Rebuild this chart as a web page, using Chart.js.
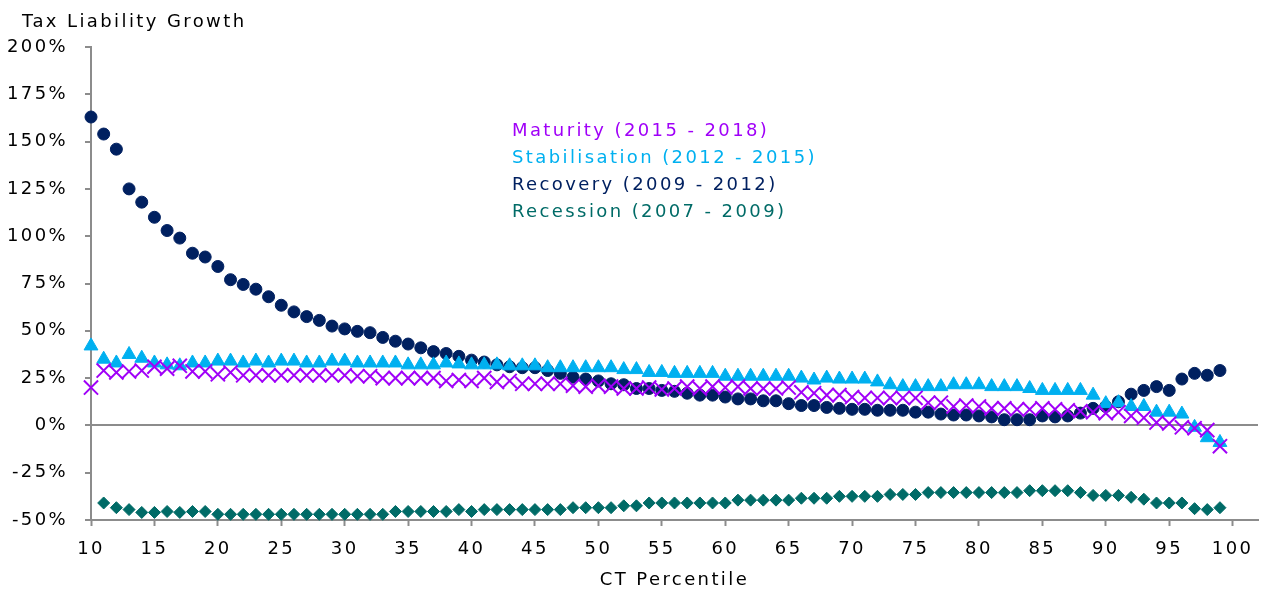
<!DOCTYPE html>
<html>
<head>
<meta charset="utf-8">
<script src="https://cdn.jsdelivr.net/npm/chart.js@4"></script>
<style>
  html, body { margin: 0; padding: 0; background: #fff; }
  #wrap { width: 1270px; height: 589px; position: relative; }
</style>
</head>
<body>
<div id="wrap"><canvas id="chart"></canvas></div>
<script>
// Data
const percentiles = [10, 11, 12, 13, 14, 15, 16, 17, 18, 19, 20, 21, 22, 23, 24, 25, 26, 27, 28, 29,
  30, 31, 32, 33, 34, 35, 36, 37, 38, 39, 40, 41, 42, 43, 44, 45, 46, 47, 48, 49,
  50, 51, 52, 53, 54, 55, 56, 57, 58, 59, 60, 61, 62, 63, 64, 65, 66, 67, 68, 69,
  70, 71, 72, 73, 74, 75, 76, 77, 78, 79, 80, 81, 82, 83, 84, 85, 86, 87, 88, 89,
  90, 91, 92, 93, 94, 95, 96, 97, 98, 99];

const maturity = [20, 29, 28, 28.5, 29, 31, 30, 31.5, 28.5, 28.5, 27, 28, 26.5, 26.5, 26.5, 26.5, 26.5, 26.5, 26.5, 26.5,
  26.5, 26, 26, 25, 25, 25, 25, 25, 23.5, 24, 23.5, 25, 23, 23.5, 22, 22, 22, 22, 21, 20.5,
  21, 20.5, 19.5, 19.5, 20, 19, 19.5, 20.5, 19.5, 20.5, 20, 20.5, 19.5, 19.5, 19.5, 20, 17.5, 17, 16, 16,
  15, 14.5, 14.5, 14.5, 14.5, 14.5, 12, 12, 10, 10.5, 10, 9, 9, 8.5, 8.5, 9, 8.5, 8, 7.5, 7,
  6.5, 7, 5, 4, 1.5, 1, -1, -1.5, -2.5, -11];

const stabilisation = [42, 35, 33, 37.5, 35.5, 33, 32, 31.5, 33, 33, 34, 34, 33, 34, 33, 34, 34, 33, 33, 34,
  34, 33, 33, 33, 33, 32, 32, 32, 33, 32.5, 32, 32, 32, 31.5, 31.5, 31.5, 30.5, 30.5, 30.5, 30.5,
  30.5, 30.5, 29.5, 29.5, 28, 28, 27.5, 27.5, 27.5, 27.5, 26, 26, 26, 26, 26, 26, 25, 24, 25, 24.5,
  24.5, 24.5, 23, 21.5, 20.5, 20.5, 20.5, 20.5, 21.5, 21.5, 21.5, 20.5, 20.5, 20.5, 19.5, 18.5, 18.5, 18.5, 18.5, 16,
  11.5, 12, 10, 10, 7, 7, 6, -1, -6.5, -9];

const recovery = [163, 154, 146, 125, 118, 110, 103, 99, 91, 89, 84, 77, 74.5, 72, 68, 63.5, 60, 57.5, 55.5, 52.5,
  51, 49.7, 49, 46.5, 44.5, 43, 41, 39, 38, 36.5, 34.5, 33.5, 32, 31, 30.5, 30.5, 29, 27.5, 25.5, 24.5,
  23.5, 22, 21.5, 19.5, 19.5, 18.5, 18, 17, 16, 16, 15, 14, 14, 13, 13, 11.5, 10.5, 10.5, 9.5, 9,
  8.5, 8.5, 8, 8, 8, 7, 7, 6, 5.5, 5.5, 5, 4.5, 3, 3, 3, 5, 4.5, 5, 6.5, 9,
  10, 12.5, 16.5, 18.5, 20.5, 18.5, 24.5, 27.5, 26.5, 29];

const recession = [null, -41, -43.5, -44.5, -46, -46, -45.5, -46, -45.5, -45.5, -47, -47, -47, -47, -47, -47, -47, -47, -47, -47,
  -47, -47, -47, -47, -45.5, -45.5, -45.5, -45.5, -45.5, -44.5, -45.5, -44.5, -44.5, -44.5, -44.5, -44.5, -44.5, -44.5, -43.5, -43.5,
  -43.5, -43.5, -42.5, -42.5, -41, -41, -41, -41, -41, -41, -41, -39.5, -39.5, -39.5, -39.5, -39.5, -38.5, -38.5, -38.5, -37.5,
  -37.5, -37.5, -37.5, -36.5, -36.5, -36.5, -35.5, -35.5, -35.5, -35.5, -35.5, -35.5, -35.5, -35.5, -34.5, -34.5, -34.5, -34.5, -35.5, -37,
  -37, -37, -38, -39, -41, -41, -41, -44, -44.5, -43.5];

const seriesNames = ['Maturity (2015 - 2018)', 'Stabilisation (2012 - 2015)', 'Recovery (2009 - 2012)', 'Recession (2007 - 2009)'];
const xTicks = [10, 15, 20, 25, 30, 35, 40, 45, 50, 55, 60, 65, 70, 75, 80, 85, 90, 95, 100];
const yTicks = [-50, -25, 0, 25, 50, 75, 100, 125, 150, 175, 200];

// Styles
const COLORS = ['#A000F8', '#00B0F0', '#002060', '#006B67'];
const AXIS_COLOR = '#8C8C8C';
const FONT = 'DejaVu Sans';
const SPACING = '2.4px';

const toPoints = values => percentiles.map((p, i) => ({ x: p, y: values[i] }));

// Canvas letter spacing, so the text runs as wide as the Verdana original
const spacingPlugin = {
  id: 'spacing',
  beforeUpdate: chart => { chart.ctx.letterSpacing = SPACING; },
  beforeDraw: chart => { chart.ctx.letterSpacing = SPACING; }
};

// Axis caption at top left and the in-plot text legend
const textPlugin = {
  id: 'texts',
  afterDraw(chart) {
    const { ctx, chartArea } = chart;
    ctx.save();
    ctx.letterSpacing = SPACING;
    ctx.font = `18px "${FONT}"`;
    ctx.textAlign = 'left';
    ctx.textBaseline = 'middle';
    ctx.fillStyle = '#000';
    ctx.fillText('Tax Liability Growth', 22, 22);
    seriesNames.forEach((name, i) => {
      ctx.fillStyle = COLORS[i];
      ctx.fillText(name, chartArea.left + 421, chartArea.top + 84 + i * 27);
    });
    ctx.restore();
  }
};

const makeDataset = (label, values, color, style, radius) => ({
  label,
  data: toPoints(values),
  pointStyle: style,
  pointRadius: radius,
  pointBackgroundColor: color,
  pointBorderColor: color,
  pointBorderWidth: style === 'crossRot' ? 2 : 1,
  showLine: false,
  clip: false
});

new Chart(document.getElementById('chart'), {
  type: 'scatter',
  data: {
    datasets: [
      makeDataset(seriesNames[0], maturity, COLORS[0], 'crossRot', 10),
      makeDataset(seriesNames[1], stabilisation, COLORS[1], 'triangle', 8),
      makeDataset(seriesNames[2], recovery, COLORS[2], 'circle', 6),
      makeDataset(seriesNames[3], recession, COLORS[3], 'rectRot', 6)
    ]
  },
  options: {
    responsive: true,
    maintainAspectRatio: false,
    animation: false,
    layout: { padding: { left: 6, right: 4, top: 47, bottom: 0 } },
    plugins: {
      legend: { display: false },
      tooltip: { enabled: false },
      title: { display: false }
    },
    scales: {
      x: {
        type: 'linear',
        min: 10,
        max: 102,
        afterBuildTicks: axis => { axis.ticks = xTicks.map(v => ({ value: v })); },
        afterFit: axis => { axis.height = 69; },
        ticks: { color: '#000', font: { family: FONT, size: 18 }, padding: 13, maxRotation: 0, autoSkip: false },
        grid: { drawOnChartArea: false, tickLength: 6, tickColor: AXIS_COLOR, tickWidth: 2 },
        border: { color: AXIS_COLOR, width: 2 },
        title: { display: true, text: 'CT Percentile', color: '#000', font: { family: FONT, size: 18 }, padding: { top: 6, bottom: -2 } }
      },
      y: {
        type: 'linear',
        min: -50,
        max: 200,
        afterBuildTicks: axis => { axis.ticks = yTicks.map(v => ({ value: v })); },
        afterFit: axis => { axis.width = 85; },
        ticks: { color: '#000', font: { family: FONT, size: 18 }, padding: 17, callback: v => v + '%' },
        grid: {
          drawOnChartArea: true,
          color: c => (c.tick && c.tick.value === 0 ? AXIS_COLOR : 'rgba(0,0,0,0)'),
          lineWidth: 2,
          tickLength: 6,
          tickColor: AXIS_COLOR,
          tickWidth: 2
        },
        border: { color: AXIS_COLOR, width: 2 }
      }
    }
  },
  plugins: [spacingPlugin, textPlugin]
});
</script>
</body>
</html>
